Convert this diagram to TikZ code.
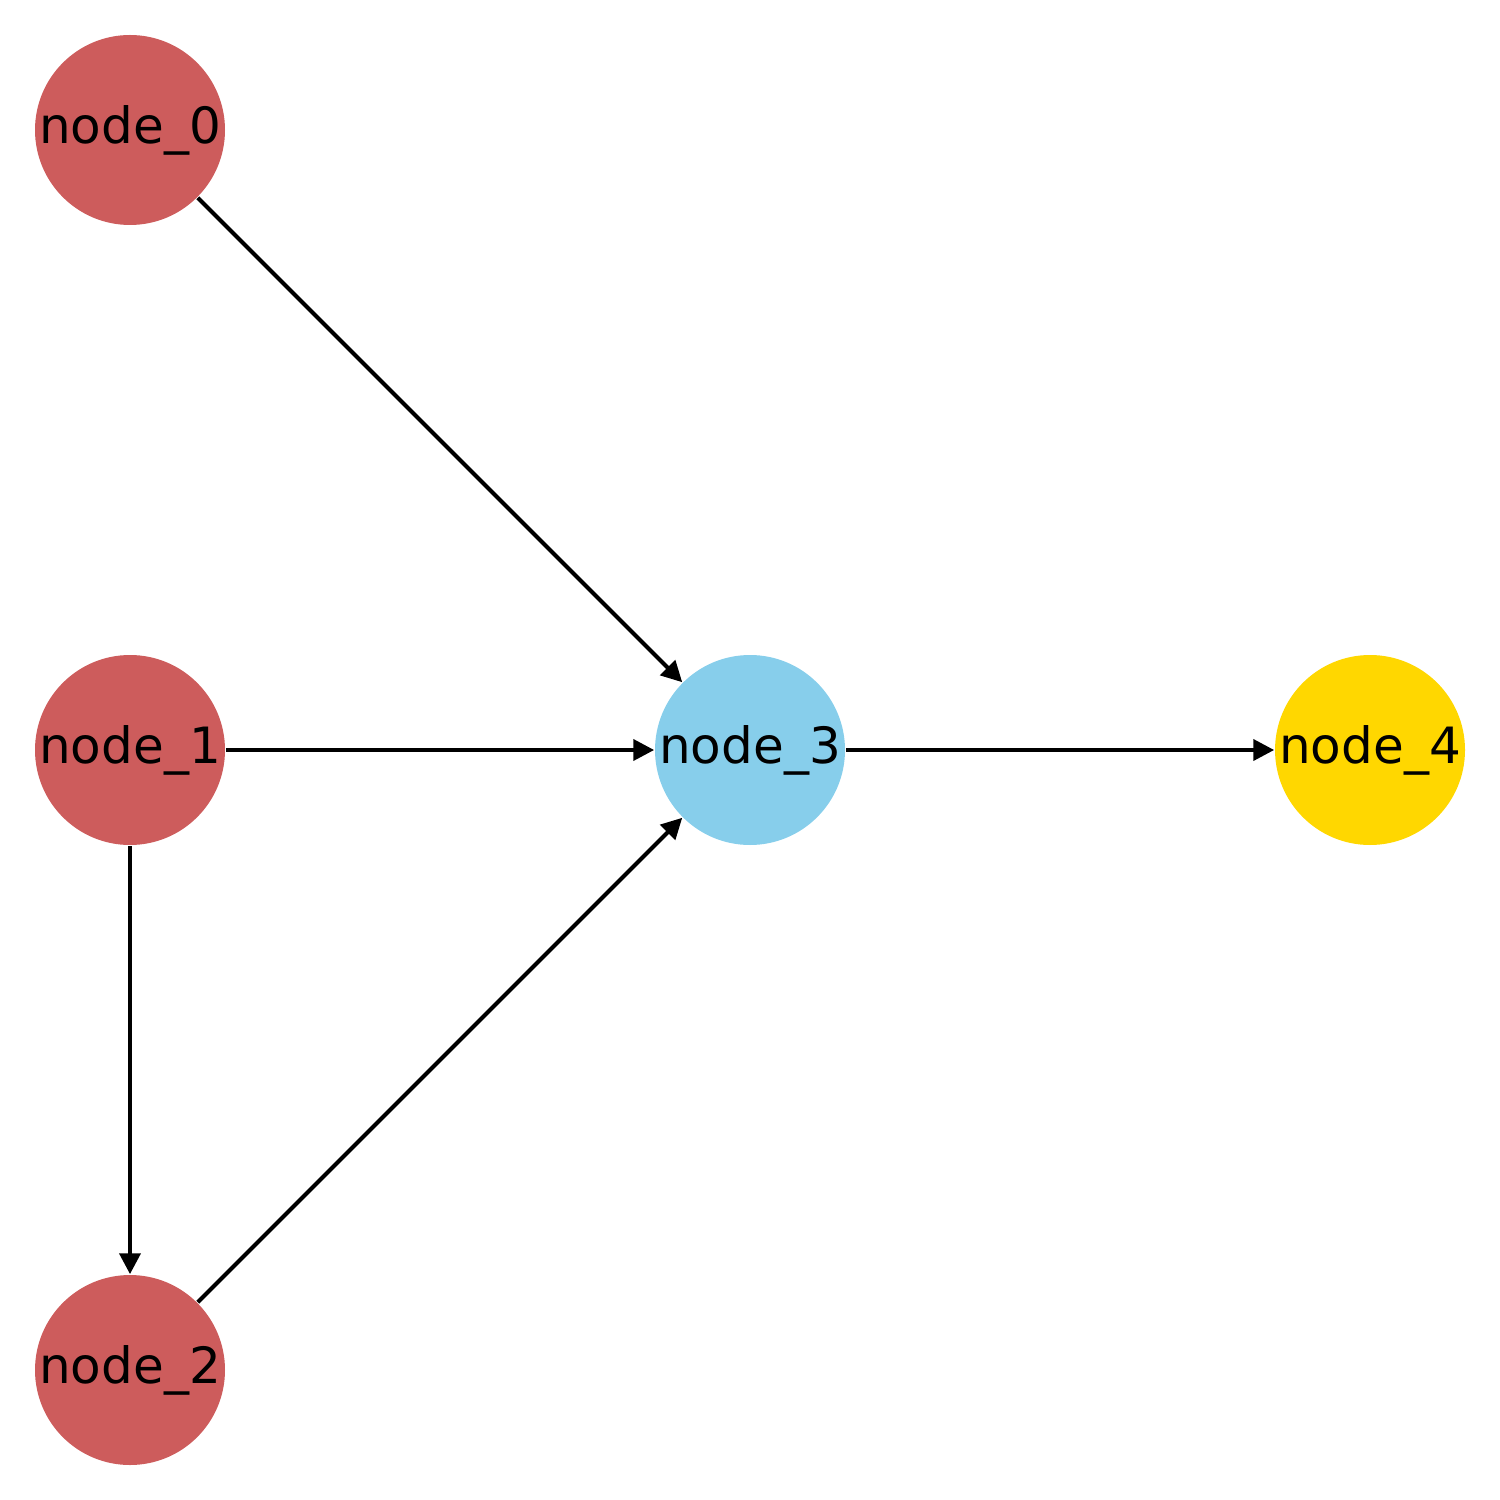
\documentclass[tikz,border=0pt]{standalone}
\usepackage{fontspec}
\setmainfont{DejaVu Sans}
\usetikzlibrary{arrows.meta}
\definecolor{cred}{HTML}{CD5C5C}
\definecolor{cblue}{HTML}{87CEEB}
\definecolor{cgold}{HTML}{FFD700}
\begin{document}
\begin{tikzpicture}[x=0.24pt,y=-0.24pt,
  gnode/.style={circle,minimum size=45.6pt,inner sep=0pt,font=\fontsize{12pt}{14pt}\selectfont},
  edge/.style={line width=1pt,-{Triangle[length=5pt,width=5pt]}}]
\useasboundingbox (0,0) rectangle (1500,1500);
\node[gnode,fill=cred] (n0) at (130,130) {node\_0};
\node[gnode,fill=cred] (n1) at (130,750) {node\_1};
\node[gnode,fill=cred] (n2) at (130,1370) {node\_2};
\node[gnode,fill=cblue] (n3) at (750,750) {node\_3};
\node[gnode,fill=cgold] (n4) at (1370,750) {node\_4};
\draw[edge] (n0) -- (n3);
\draw[edge] (n1) -- (n3);
\draw[edge] (n1) -- (n2);
\draw[edge] (n2) -- (n3);
\draw[edge] (n3) -- (n4);
\end{tikzpicture}
\end{document}
